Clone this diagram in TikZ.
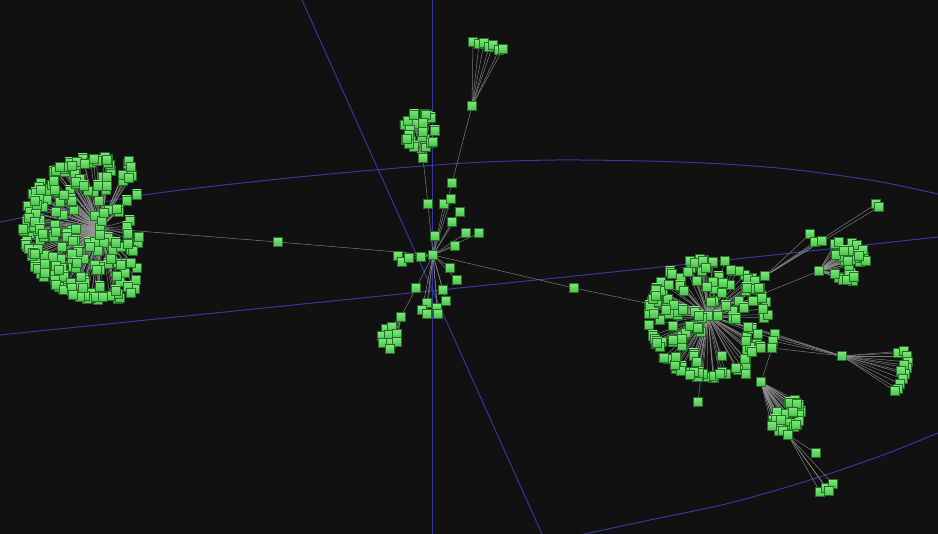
\documentclass[tikz,border=0pt]{standalone}
\definecolor{bgcol}{RGB}{17,17,17}
\definecolor{axisblue}{RGB}{55,55,160}
\definecolor{cubetop}{RGB}{125,232,125}
\definecolor{cubebot}{RGB}{72,196,72}
\definecolor{cubeedge}{RGB}{40,110,40}
\definecolor{linkgray}{RGB}{150,150,150}
\pgfdeclarelayer{axes}
\pgfdeclarelayer{links}
\pgfsetlayers{axes,links,main}
\begin{document}
\begin{tikzpicture}[x=1pt,y=-1pt,
  cube/.style={rectangle, minimum size=9pt, inner sep=0pt, top color=cubetop, bottom color=cubebot, draw=cubeedge, line width=0.5pt},
  link/.style={draw=linkgray, line width=0.5pt, opacity=0.8},
  axisline/.style={draw=axisblue, line width=1pt}]
\useasboundingbox (0,0) rectangle (938,534);
\begin{pgfonlayer}{axes}
  \fill[bgcol] (0,0) rectangle (938,534);
  \fill[axisblue] (432,0) rectangle (433.1,534);
  \draw[axisline] (302,0) -- (542,534);
  \draw[axisline] plot[smooth] coordinates {(-10,224) (0,222) (144,195) (299,177) (450,164) (557,160) (680,162) (778,168) (870,180) (938,194) (950,197)};
  \draw[axisline] plot[smooth] coordinates {(-5,336) (0,335) (430,291) (708,262) (938,237) (945,236)};
  \draw[axisline] plot[smooth] coordinates {(575,536) (650,520) (730,503) (810,480) (883,455) (938,433) (945,430)};
\end{pgfonlayer}

% ---------- hubs ----------
\node[cube] (C) at (433,255) {};
\node[cube] (Lh) at (100,228) {};
\node[cube] (Rh) at (708,316) {};
\node[cube] (ML) at (278,242) {};
\node[cube] (MR) at (574,288) {};
\node[cube] (Th) at (423,158) {};
\node[cube] (Tc) at (428,204) {};
\node[cube] (Fh) at (472,106) {};
\node[cube] (Fc) at (452,183) {};
\node[cube] (Pc) at (416,288) {};
\node[cube] (Ph) at (401,317) {};

% ---------- central scattered nodes ----------
\foreach \p [count=\k] in {(444,204),(451,199),(460,212),(452,222),(435,236),(466,233),(479,233),(455,246),(398,256),(402,262),(409,258),(421,257),(450,268),(457,280),(443,290),(446,301),(427,303),(422,310),(427,314),(437,308),(438,314)}{
  \node[cube] (Cn\k) at \p {};
}
% ---------- top fan ----------
\foreach \p [count=\k] in {(473,42),(479,44),(484,43),(489,47),(493,45),(499,50),(503,49)}{
  \node[cube] (Fn\k) at \p {};
}
% ---------- small blob lower left ----------
\foreach \p [count=\k] in {(386,329),(392,327),(382,336),(389,335),(397,334),(383,343),(391,343),(397,342),(390,349)}{
  \node[cube] (Pn\k) at \p {};
}
% ---------- left hemisphere cluster ----------
\pgfmathsetseed{7}
\foreach \i in {1,...,230}{
  \pgfmathsetmacro{\cu}{-1+1.5*rnd}
  \pgfmathsetmacro{\ct}{360*rnd}
  \pgfmathsetmacro{\cv}{sqrt(max(0,1-(\cu)*(\cu)))*cos(\ct)}
  \node[cube] (L\i) at ({101+78*\cu},{228+72*\cv}) {};
}
% ---------- top blob ----------
\pgfmathsetseed{11}
\foreach \i in {1,...,28}{
  \pgfmathsetmacro{\cu}{-1+2*rnd}
  \pgfmathsetmacro{\ct}{360*rnd}
  \pgfmathsetmacro{\cv}{sqrt(max(0,1-(\cu)*(\cu)))*cos(\ct)}
  \node[cube] (T\i) at ({420+17*\cu},{131+18*\cv}) {};
}
% ---------- right big cluster ----------
\pgfmathsetseed{23}
\foreach \i in {1,...,150}{
  \pgfmathsetmacro{\cu}{-1+2*rnd}
  \pgfmathsetmacro{\ct}{360*rnd}
  \pgfmathsetmacro{\cv}{sqrt(max(0,1-(\cu)*(\cu)))*cos(\ct)}
  \node[cube] (R\i) at ({708+60*\cu},{318+60*\cv}) {};
}
% ---------- right side branches ----------
\node[cube] (Q) at (765,276) {};
\node[cube] (Gh) at (819,271) {};
\node[cube] (S1) at (775,334) {};
\node[cube] (S2) at (773,341) {};
\node[cube] (S3) at (772,348) {};
\node[cube] (X1) at (748,327) {};
\node[cube] (X2) at (758,334) {};
\node[cube] (Eh) at (842,356) {};
\node[cube] (Bh) at (761,382) {};
\node[cube] (Y1) at (698,402) {};
\node[cube] (Y2) at (746,374) {};
\foreach \p [count=\k] in {(810,234),(815,242),(822,241),(876,204),(879,207)}{
  \node[cube] (Qn\k) at \p {};
}
\foreach \p [count=\k] in {(898,353),(904,351),(907,356),(908,362),(907,368),(904,365),(905,374),(901,371),(903,379),(900,384),(898,389),(895,391)}{
  \node[cube] (En\k) at \p {};
}
% ---------- right-top cap cluster ----------
\pgfmathsetseed{31}
\foreach \i in {1,...,34}{
  \pgfmathsetmacro{\cu}{-0.5+1.5*rnd}
  \pgfmathsetmacro{\ct}{360*rnd}
  \pgfmathsetmacro{\cv}{sqrt(max(0,1-(\cu)*(\cu)))*cos(\ct)}
  \node[cube] (G\i) at ({845+21*\cu},{261+21*\cv}) {};
}
% ---------- bottom cap cluster ----------
\pgfmathsetseed{41}
\foreach \i in {1,...,30}{
  \pgfmathsetmacro{\cu}{-0.3+1.3*rnd}
  \pgfmathsetmacro{\ct}{360*rnd}
  \pgfmathsetmacro{\cv}{sqrt(max(0,1-(\cu)*(\cu)))*cos(\ct)}
  \node[cube] (B\i) at ({783+18*(0.6*\cu-0.8*\cv)},{413+18*(0.8*\cu+0.6*\cv)}) {};
}
\node[cube] (Bt) at (788,435) {};
\foreach \p [count=\k] in {(816,453),(820,492),(826,488),(833,484),(829,491)}{
  \node[cube] (Dn\k) at \p {};
}

% ---------- all connectors ----------
\begin{pgfonlayer}{links}
  \draw[link] (Lh.center) -- (ML.center) -- (C.center) -- (MR.center) -- (Rh.center);
  \draw[link] (Th.center) -- (Tc.center) -- (C.center);
  \draw[link] (Fh.center) -- (Fc.center) -- (C.center);
  \draw[link] (Ph.center) -- (Pc.center) -- (C.center);
  \foreach \k in {1,...,21}{\draw[link] (C.center) -- (Cn\k.center);}
  \foreach \k in {1,...,7}{\draw[link] (Fh.center) -- (Fn\k.center);}
  \foreach \k in {1,...,9}{\draw[link] (Ph.center) -- (Pn\k.center);}
  \foreach \k in {1,...,230}{\draw[link] (Lh.center) -- (L\k.center);}
  \foreach \k in {1,...,28}{\draw[link] (Th.center) -- (T\k.center);}
  \foreach \k in {1,...,150}{\draw[link] (Rh.center) -- (R\k.center);}
  \foreach \n in {Q,Gh,S1,X1,X2,Y1,Y2,Eh}{\draw[link] (Rh.center) -- (\n.center);}
  \foreach \n in {S1,S2,S3,X1,X2}{\draw[link] (Eh.center) -- (\n.center);}
  \draw[link] (S3.center) -- (Bh.center);
  \foreach \k in {1,...,5}{\draw[link] (Q.center) -- (Qn\k.center);}
  \foreach \k in {1,...,12}{\draw[link] (Eh.center) -- (En\k.center);}
  \foreach \k in {1,...,34}{\draw[link] (Gh.center) -- (G\k.center);}
  \foreach \k in {1,...,30}{\draw[link] (Bh.center) -- (B\k.center);}
  \draw[link] (Bh.center) -- (Bt.center);
  \foreach \k in {1,...,5}{\draw[link] (Bt.center) -- (Dn\k.center);}
\end{pgfonlayer}
\end{tikzpicture}
\end{document}
